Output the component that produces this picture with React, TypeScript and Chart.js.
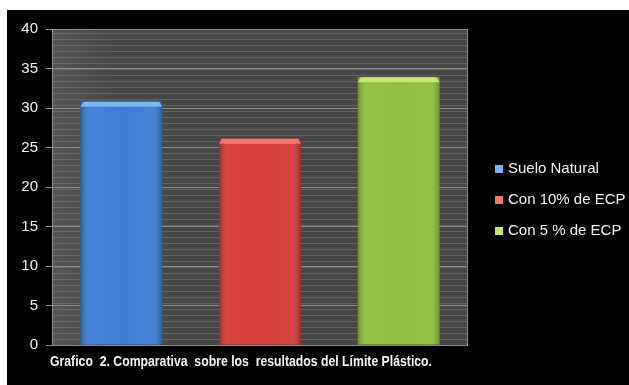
import React, { useEffect, useRef } from "react";
import { Chart, registerables } from "chart.js";

Chart.register(...registerables);

const categories = [""];
const seriesNames = ["Suelo Natural", "Con 10% de ECP", "Con 5 % de ECP"];
const seriesValues = [30.8, 26.1, 33.9];
const seriesColors = ["#357bd4", "#d33a36", "#8fbe3a"];
const seriesHighlights = ["#79b6f2", "#f27a6e", "#c8e870"];
const yTicks = [0, 5, 10, 15, 20, 25, 30, 35, 40];
const caption = "Grafico  2. Comparativa  sobre los  resultados del Límite Plástico.";

const bgPlugin = {
  id: "bgPlugin",
  beforeDraw(chart: any) {
    const { ctx, width, height, chartArea } = chart;
    ctx.save();
    ctx.fillStyle = "#ffffff";
    ctx.fillRect(0, 0, width, height);
    ctx.fillStyle = "#000000";
    ctx.fillRect(7, 10, width - 7, height - 10);
    const { left, top, right, bottom } = chartArea;
    ctx.fillStyle = "#474747";
    ctx.fillRect(left, top, right - left, bottom - top);
    const g = ctx.createLinearGradient(left, 0, left + 60, 0);
    g.addColorStop(0, "rgba(255,255,255,0.08)");
    g.addColorStop(1, "rgba(255,255,255,0)");
    ctx.fillStyle = g;
    ctx.fillRect(left, top, 60, bottom - top);
    ctx.strokeStyle = "rgba(150,150,150,0.35)";
    ctx.lineWidth = 1;
    for (let y = top + 4; y < bottom; y += 6) {
      ctx.beginPath();
      ctx.moveTo(left, Math.round(y) + 0.5);
      ctx.lineTo(right, Math.round(y) + 0.5);
      ctx.stroke();
    }
    ctx.restore();
  },
  afterDraw(chart: any) {
    const { ctx, chartArea } = chart;
    const { left, top, right, bottom } = chartArea;
    ctx.save();
    ctx.strokeStyle = "#8c8c8c";
    ctx.lineWidth = 1;
    ctx.strokeRect(left + 0.5, top + 0.5, right - left - 1, bottom - top);
    ctx.font = "15px 'Liberation Sans', Arial, sans-serif";
    ctx.textBaseline = "middle";
    const ys = [169, 200, 231];
    chart.data.datasets.forEach((ds: any, i: number) => {
      const y = ys[i];
      ctx.fillStyle = seriesHighlights[i];
      ctx.fillRect(495, y - 4, 8, 8);
      ctx.fillStyle = "#f2f2f2";
      ctx.textAlign = "left";
      ctx.fillText(ds.label, 508, y, 118);
    });
    ctx.font = "bold 15px 'Liberation Sans', Arial, sans-serif";
    ctx.fillStyle = "#f4f4f4";
    ctx.textBaseline = "alphabetic";
    ctx.fillText(caption, 50, 366, 382);
    ctx.restore();
  },
  afterDatasetsDraw(chart: any) {
    const { ctx } = chart;
    ctx.save();
    chart.data.datasets.forEach((ds: any, i: number) => {
      const meta = chart.getDatasetMeta(i);
      meta.data.forEach((bar: any) => {
        const x0 = bar.x - bar.width / 2;
        const x1 = bar.x + bar.width / 2;
        const top = bar.y;
        const base = bar.base;
        const g = ctx.createLinearGradient(x0, 0, x1, 0);
        g.addColorStop(0, "rgba(0,0,0,0.25)");
        g.addColorStop(0.12, "rgba(255,255,255,0.06)");
        g.addColorStop(0.5, "rgba(255,255,255,0.03)");
        g.addColorStop(0.88, "rgba(255,255,255,0.06)");
        g.addColorStop(1, "rgba(0,0,0,0.25)");
        ctx.fillStyle = g;
        ctx.fillRect(x0, top, x1 - x0, base - top);
        ctx.fillStyle = seriesHighlights[i];
        ctx.beginPath();
        ctx.moveTo(x0, top + 5);
        ctx.lineTo(x0 + 3, top);
        ctx.lineTo(x1 - 3, top);
        ctx.lineTo(x1, top + 5);
        ctx.closePath();
        ctx.fill();
      });
    });
    ctx.restore();
  },
};

export default function App() {
  const ref = useRef<HTMLCanvasElement | null>(null);
  useEffect(() => {
    document.body.style.margin = "0";
    const chart = new Chart(ref.current as HTMLCanvasElement, {
      type: "bar",
      data: {
        labels: categories,
        datasets: seriesNames.map((name, i) => ({
          label: name,
          data: [seriesValues[i]],
          backgroundColor: seriesColors[i],
          borderWidth: 0,
          categoryPercentage: 1.0,
          barPercentage: 0.59,
        })),
      },
      options: {
        animation: false,
        responsive: false,
        devicePixelRatio: 1,
        layout: { padding: { left: 7, top: 29, right: 161, bottom: 40 } },
        plugins: { legend: { display: false }, tooltip: { enabled: false }, title: { display: false } },
        scales: {
          x: { display: false },
          y: {
            min: 0,
            max: 40,
            afterBuildTicks: (scale: any) => {
              scale.ticks = yTicks.map((v) => ({ value: v }));
            },
            afterFit: (scale: any) => {
              scale.width = 45;
            },
            ticks: {
              color: "#f4f4f4",
              font: { family: "'Liberation Sans', Arial, sans-serif", size: 15 },
              padding: 8,
            },
            grid: { color: "#8c8c8c", tickLength: 6, lineWidth: 1 },
            border: { display: false },
          },
        },
      },
      plugins: [bgPlugin],
    });
    return () => chart.destroy();
  }, []);
  return (
    <div style={{ position: "absolute", left: 0, top: 0, width: 629, height: 385 }}>
      <canvas ref={ref} width={629} height={385} />
    </div>
  );
}
